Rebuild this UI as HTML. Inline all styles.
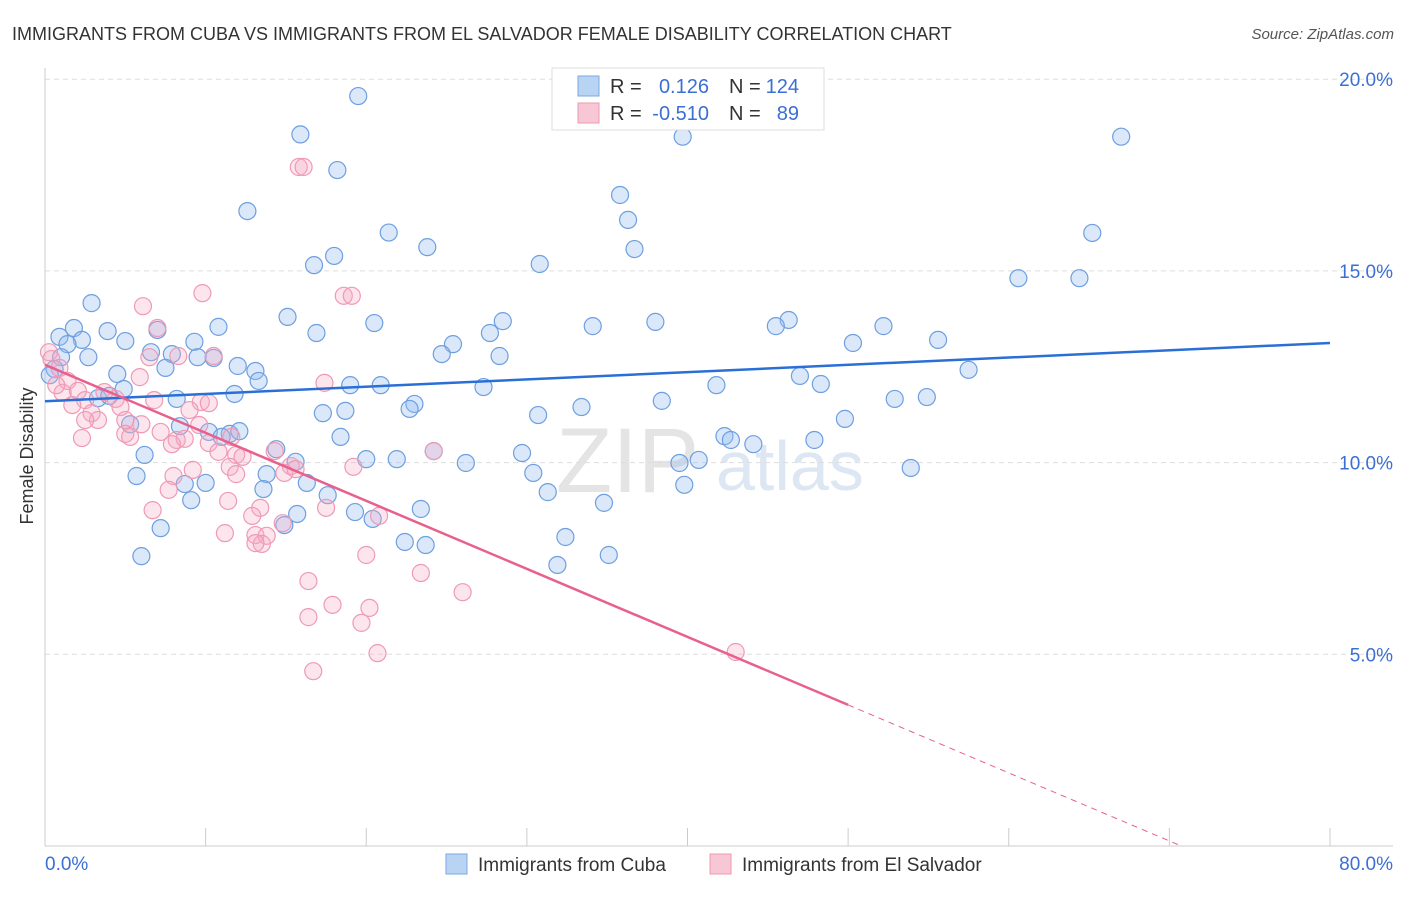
<!DOCTYPE html>
<html><head><meta charset="utf-8"><style>
html,body{margin:0;padding:0;background:#fff;}
body{width:1406px;height:892px;overflow:hidden;font-family:"Liberation Sans",sans-serif;}
svg text{font-family:"Liberation Sans",sans-serif;}
</style></head><body>
<svg id="chart" width="1406" height="892" xmlns="http://www.w3.org/2000/svg">
<text x="12" y="40" font-size="18" fill="#333">IMMIGRANTS FROM CUBA VS IMMIGRANTS FROM EL SALVADOR FEMALE DISABILITY CORRELATION CHART</text>
<text x="1394" y="39" font-size="15" fill="#555" text-anchor="end" font-style="italic">Source: ZipAtlas.com</text>
<text x="556" y="492" font-size="92" fill="#e4e4e4" font-family="Liberation Serif">ZIP</text>
<text x="716" y="490" font-size="70" fill="#dde6f3">atlas</text>
<g id="grid"></g>
<g id="axes"></g>
<g id="pts"></g>
<g id="lines"></g>
<text transform="translate(33,456) rotate(-90)" font-size="18" fill="#333" text-anchor="middle">Female Disability</text>
<g>
<rect x="552" y="68" width="272" height="62" fill="#fff" stroke="#ddd"/>
<rect x="578" y="76" width="21" height="20" fill="#b9d3f3" stroke="#7aa7e3"/>
<rect x="578" y="103" width="21" height="20" fill="#f8c7d6" stroke="#ee9ab3"/>
<text x="610" y="93" font-size="20" fill="#333">R =</text>
<text x="709" y="93" font-size="20" fill="#3b6fd4" text-anchor="end">0.126</text>
<text x="729" y="93" font-size="20" fill="#333">N =</text>
<text x="799" y="93" font-size="20" fill="#3b6fd4" text-anchor="end">124</text>
<text x="610" y="120" font-size="20" fill="#333">R =</text>
<text x="709" y="120" font-size="20" fill="#3b6fd4" text-anchor="end">-0.510</text>
<text x="729" y="120" font-size="20" fill="#333">N =</text>
<text x="799" y="120" font-size="20" fill="#3b6fd4" text-anchor="end">89</text>
</g>
<g>
<rect x="446" y="854" width="21" height="20" fill="#b9d3f3" stroke="#7aa7e3"/>
<text x="478" y="871" font-size="19" fill="#333">Immigrants from Cuba</text>
<rect x="710" y="854" width="21" height="20" fill="#f8c7d6" stroke="#ee9ab3"/>
<text x="742" y="871" font-size="19" fill="#333">Immigrants from El Salvador</text>
</g>
</svg>
<script>
const yTicks=[5,10,15,20];
const yTickLabels=["5.0%","10.0%","15.0%","20.0%"];
const xTicks=[0,10,20,30,40,50,60,70,80];
const xEndLabels=["0.0%","80.0%"];
const cubaX=[19.5,15.9,39.7,67.0,18.2,35.8,12.6,36.3,21.4,65.2,23.8,36.7,18.0,16.75,30.8,60.6,64.4,2.9,15.1,28.5,20.5,38.0,46.3,34.1,45.5,52.2,1.8,10.8,3.9,7.0,16.9,27.7,0.9,5.0,2.3,1.4,25.4,50.3,9.3,6.6,7.9,1.0,2.7,9.5,10.5,24.7,28.3,55.6,7.5,12.0,13.1,4.5,0.6,0.3,13.3,57.5,47.0,19.0,20.9,27.3,41.8,48.3,4.9,11.8,3.3,4.0,8.2,38.4,52.9,54.9,23.0,22.7,18.7,17.3,33.4,30.7,49.8,5.3,8.4,10.2,11.5,12.1,11.0,18.4,42.3,42.7,44.1,47.9,14.4,6.2,24.2,29.7,20.0,21.9,26.2,15.6,39.5,40.7,5.7,13.8,30.4,53.9,8.7,10.0,16.3,39.8,13.6,31.3,17.6,9.1,34.8,23.4,19.3,15.7,20.4,14.9,7.2,32.4,22.4,23.7,6.0,35.1,31.9];
const cubaY=[19.56,18.56,18.5,18.5,17.63,16.98,16.56,16.33,16.0,15.99,15.62,15.57,15.39,15.15,15.18,14.81,14.81,14.16,13.8,13.69,13.64,13.67,13.72,13.56,13.56,13.56,13.51,13.54,13.43,13.46,13.38,13.38,13.28,13.17,13.2,13.09,13.09,13.12,13.15,12.88,12.83,12.75,12.75,12.75,12.73,12.83,12.78,13.2,12.47,12.52,12.39,12.31,12.44,12.28,12.13,12.42,12.26,12.02,12.02,11.97,12.02,12.05,11.92,11.79,11.68,11.74,11.66,11.61,11.66,11.71,11.53,11.4,11.35,11.29,11.45,11.24,11.14,11.0,10.95,10.8,10.75,10.82,10.67,10.67,10.69,10.59,10.48,10.59,10.35,10.2,10.3,10.25,10.09,10.09,9.99,10.02,9.99,10.07,9.65,9.7,9.73,9.86,9.44,9.47,9.47,9.42,9.31,9.23,9.15,9.02,8.95,8.79,8.71,8.66,8.53,8.37,8.29,8.06,7.93,7.85,7.56,7.59,7.33];
const salvX=[15.8,16.1,9.8,18.6,19.1,6.1,7.0,0.25,0.4,8.3,10.5,6.5,0.9,5.9,1.4,17.4,2.05,1.1,3.7,0.7,2.5,4.4,6.8,9.7,10.2,1.7,4.7,2.9,9.0,3.3,5.0,2.5,6.0,9.6,7.2,5.0,5.3,8.2,8.7,7.9,2.3,10.2,11.6,10.8,11.9,12.3,14.3,11.5,15.3,14.9,19.2,9.2,8.0,11.9,24.2,7.7,11.4,13.4,17.5,6.7,12.9,20.8,14.8,11.2,13.1,13.8,13.5,13.1,20.0,23.4,16.4,26.0,17.9,20.2,16.4,19.7,20.7,16.7,43.0,15.6];
const salvY=[17.71,17.71,14.42,14.35,14.35,14.08,13.51,12.88,12.7,12.78,12.78,12.75,12.47,12.23,12.13,12.08,11.87,11.82,11.84,12.02,11.63,11.66,11.63,11.58,11.55,11.5,11.45,11.29,11.37,11.11,11.11,11.11,11.0,10.98,10.8,10.75,10.67,10.59,10.62,10.48,10.64,10.51,10.67,10.28,10.2,10.15,10.3,9.89,9.91,9.73,9.89,9.81,9.65,9.7,10.3,9.29,9.0,8.82,8.82,8.76,8.61,8.61,8.42,8.16,8.11,8.09,7.88,7.9,7.59,7.12,6.91,6.62,6.29,6.21,5.97,5.82,5.03,4.56,5.06,9.83];
const cubaTrend=[11.6,13.12];
const salvTrend=[12.55,3.68];
const salvTrendEnd=50;
const X0=45,X1=1330,Y0=846,PXPER=38.34;
const sx=v=>X0+(X1-X0)*v/80;
const sy=v=>Y0-v*PXPER;
const NS="http://www.w3.org/2000/svg";
function mk(tag,attrs,parent){const e=document.createElementNS(NS,tag);for(const k in attrs)e.setAttribute(k,attrs[k]);parent.appendChild(e);return e;}
const grid=document.getElementById('grid'),axes=document.getElementById('axes'),pts=document.getElementById('pts'),lines=document.getElementById('lines');
yTicks.forEach((t,i)=>{
 const l=mk('line',{x1:X0,x2:1393,y1:sy(t),y2:sy(t),stroke:'#ddd','stroke-dasharray':'5,4'},grid);
 
 
 const tx=mk('text',{x:1393,y:sy(t)+7,'font-size':19,fill:'#3b6fd4','text-anchor':'end'},grid);
 tx.textContent=yTickLabels[i];
 
 
});
const ax=mk('line',{x1:X0,x2:X0,y1:68,y2:846,stroke:'#ccc'},axes);


const bx=mk('line',{x1:X0,x2:1393,y1:846,y2:846,stroke:'#ccc'},axes);


xTicks.forEach(t=>{
 const l=mk('line',{x1:sx(t),x2:sx(t),y1:828,y2:846,stroke:'#ccc'},axes);
 
 
});
const xl0=mk('text',{x:45,y:870,'font-size':19,fill:'#3b6fd4'},axes);xl0.textContent=xEndLabels[0];


const xl1=mk('text',{x:1393,y:870,'font-size':19,fill:'#3b6fd4','text-anchor':'end'},axes);xl1.textContent=xEndLabels[1];


cubaX.forEach((x,i)=>{
 const c=mk('circle',{cx:sx(x),cy:sy(cubaY[i]),r:8.5,fill:'rgba(150,190,240,0.35)',stroke:'#6e9fe0','stroke-width':1.2},pts);
 
 
});
salvX.forEach((x,i)=>{
 const c=mk('circle',{cx:sx(x),cy:sy(salvY[i]),r:8.5,fill:'rgba(245,170,195,0.3)',stroke:'#ef9ab5','stroke-width':1.2},pts);
 
 
});
const bl=mk('line',{x1:sx(0),y1:sy(cubaTrend[0]),x2:sx(80),y2:sy(cubaTrend[1]),stroke:'#2a6fd6','stroke-width':2.5},lines);


const pl=mk('line',{x1:sx(0),y1:sy(salvTrend[0]),x2:sx(salvTrendEnd),y2:sy(salvTrend[1]),stroke:'#e8608e','stroke-width':2.5},lines);


const slope=(salvTrend[1]-salvTrend[0])/salvTrendEnd;
const xz=-salvTrend[0]/slope;
const pd=mk('line',{x1:sx(salvTrendEnd),y1:sy(salvTrend[1]),x2:sx(xz),y2:sy(0),stroke:'#e8608e','stroke-width':1,'stroke-dasharray':'6,5'},lines);


</script>
</body></html>
